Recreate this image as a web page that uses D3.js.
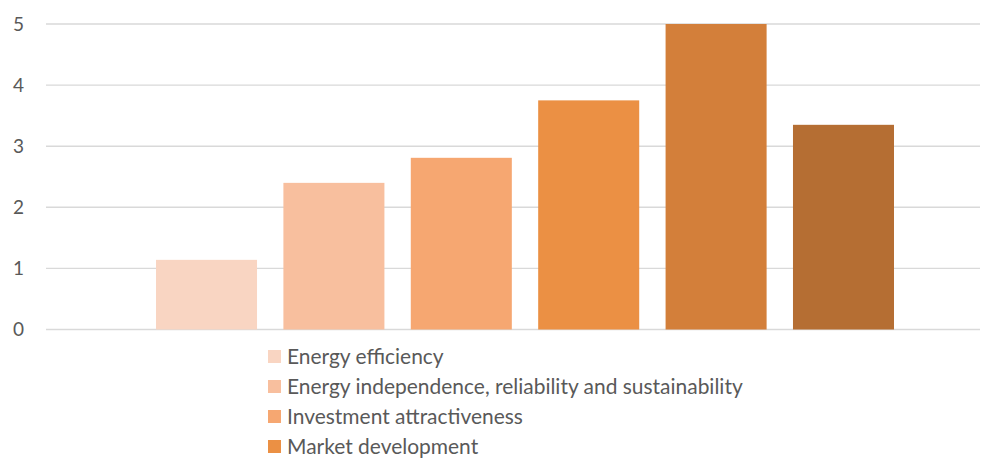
<!DOCTYPE html>
<html>
<head>
<meta charset="utf-8">
<script src="https://cdn.jsdelivr.net/npm/d3@7"></script>
<style>
  html, body { margin: 0; padding: 0; background: #ffffff; }
  svg { display: block; }
  text { font-family: Lato, "Open Sans", "Liberation Sans", sans-serif; fill: #595959; }
</style>
</head>
<body>
<svg id="chart" width="992" height="459"></svg>
<script>
// Legend labels of the series (one column per series)
const seriesNames = [
  "Energy efficiency",
  "Energy independence, reliability and sustainability",
  "Investment attractiveness",
  "Market development"
];
const seriesValues = [1.14, 2.40, 2.81, 3.75, 5.0, 3.35];
const seriesColors = ["#F9D5C2", "#F8BF9E", "#F6A771", "#EB9044", "#D37F3A", "#B56E33"];
const yTicks = [0, 1, 2, 3, 4, 5];

const W = 992, H = 459;
const svg = d3.select("#chart");

const plot = { left: 46, right: 980, top: 24, bottom: 329.5 };

const y = d3.scaleLinear().domain([0, 5]).range([plot.bottom, plot.top]);
const x = d3.scaleBand()
  .domain(d3.range(seriesValues.length))
  .range([156, 894])
  .paddingInner(0.207)
  .paddingOuter(0);

// Horizontal gridlines
svg.append("g")
  .selectAll("line")
  .data(yTicks)
  .join("line")
  .attr("x1", plot.left)
  .attr("x2", plot.right)
  .attr("y1", d => y(d))
  .attr("y2", d => y(d))
  .attr("stroke", "#D9D9D9")
  .attr("stroke-width", 1.4);

// Y axis labels
const yAxis = d3.axisLeft(y).tickValues(yTicks).tickFormat(d3.format("d")).tickSize(0).tickPadding(0);
const gy = svg.append("g").attr("transform", "translate(24,0)").call(yAxis);
gy.select(".domain").remove();
gy.selectAll("text")
  .style("font-size", "19px")
  .style("font-family", "Lato, 'Open Sans', sans-serif")
  .attr("fill", "#595959");

// Columns
svg.append("g")
  .selectAll("rect")
  .data(seriesValues)
  .join("rect")
  .attr("x", (d, i) => x(i))
  .attr("width", x.bandwidth())
  .attr("y", d => y(d))
  .attr("height", d => y(0) - y(d))
  .attr("fill", (d, i) => seriesColors[i]);

// Legend (vertical list below the plot)
const legend = svg.append("g").attr("transform", "translate(268,0)");
const rows = legend.selectAll("g")
  .data(seriesNames)
  .join("g")
  .attr("transform", (d, i) => `translate(0,${357 + i * 30})`);
rows.append("rect")
  .attr("x", 0).attr("y", -7)
  .attr("width", 13).attr("height", 13)
  .attr("fill", (d, i) => seriesColors[i]);
rows.append("text")
  .attr("x", 19)
  .attr("dy", "0.35em")
  .style("font-size", "20px")
  .text(d => d);

// Fit legend text width to the available space
const longest = rows.filter((d, i) => i === 1).select("text").node();
const w = longest.getComputedTextLength();
const fs = 20 * 456 / w;
rows.selectAll("text").style("font-size", fs + "px");
</script>
</body>
</html>
